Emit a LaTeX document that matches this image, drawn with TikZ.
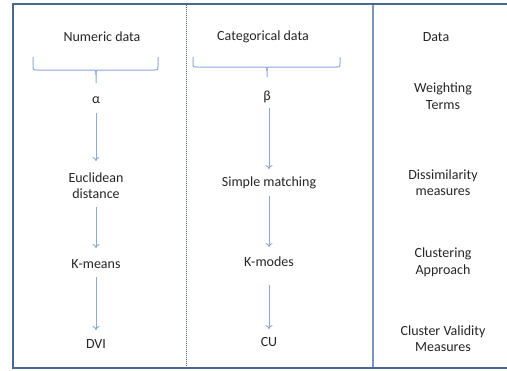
\documentclass[tikz,border=0pt]{standalone}
\usepackage{fontspec}
\setmainfont{Carlito}
\usetikzlibrary{arrows.meta}
\definecolor{frame}{HTML}{4A6793}
\definecolor{divider}{HTML}{7D96C0}
\definecolor{arrowc}{HTML}{8AA8D8}
\definecolor{txt}{HTML}{262626}
\begin{document}
\begin{tikzpicture}[x=1bp,y=-1bp,
  lbl/.style={inner sep=0pt,text=txt,font=\fontsize{14bp}{16.5bp}\selectfont,align=center},
  arr/.style={draw=arrowc,line width=0.9bp,-{To[length=4bp,width=7bp]}},
  bracec/.style={draw=arrowc,line width=1bp}]
\useasboundingbox (0,0) rectangle (507,370);
% frame
\draw[frame,line width=2bp] (507,4) -- (13,4) -- (13,368) -- (507,368);
\draw[frame,line width=1bp,dash pattern=on 1bp off 1bp] (186,5) -- (186,367);
\draw[divider,line width=2.4bp] (373,5) -- (373,367);
% left column
\node[lbl] (numeric) at (102,37) {Numeric data};
\node[lbl] (alpha) at (96,100) {α};
\node[lbl] (eucl) at (96,185.5) {Euclidean\\distance};
\node[lbl] (kmeans) at (96,264) {K-means};
\node[lbl] (dvi) at (96,344) {DVI};
% middle column
\node[lbl] (categ) at (263,37) {Categorical data};
\node[lbl] (beta) at (267,97) {β};
\node[lbl] (simple) at (269,183) {Simple matching};
\node[lbl] (kmodes) at (269,262) {K-modes};
\node[lbl] (cu) at (269,342) {CU};
% right column
\node[lbl] (data) at (436,37) {Data};
\node[lbl] (weight) at (443,96) {Weighting\\Terms};
\node[lbl] (dissim) at (443,182.5) {Dissimilarity\\measures};
\node[lbl] (clust) at (443,262.5) {Clustering\\Approach};
\node[lbl] (valid) at (443,338.5) {Cluster Validity\\Measures};
% braces
\coordinate (bl1) at (33,57);
\coordinate (br1) at (158,57);
\coordinate (bt1) at (96,83);
\draw[bracec] (bl1) -- (33,66) .. controls (33,70) .. (37,70) -- (92,70)
  .. controls (96,70) .. (96,75) -- (bt1);
\draw[bracec] (96,75) .. controls (96,70) .. (100,70) -- (154,70)
  .. controls (158,70) .. (158,66) -- (br1);
\coordinate (bl2) at (193,57);
\coordinate (br2) at (340,57);
\coordinate (bt2) at (267,77);
\draw[bracec] (bl2) -- (193,63) .. controls (193,67) .. (197,67) -- (263,67)
  .. controls (267,67) .. (267,71) -- (bt2);
\draw[bracec] (267,71) .. controls (267,67) .. (271,67) -- (336,67)
  .. controls (340,67) .. (340,63) -- (br2);
% arrows left
\draw[arr,shorten <=13bp,shorten >=24.5bp] (alpha.center) -- (eucl.center);
\draw[arr,shorten <=21.5bp,shorten >=16bp] (eucl.center) -- (kmeans.center);
\draw[arr,shorten <=13bp,shorten >=14bp] (kmeans.center) -- (dvi.center);
% arrows middle
\draw[arr,shorten <=11bp,shorten >=14bp] (simple.center |- beta.center) -- (simple.center);
\draw[arr,shorten <=13bp,shorten >=15bp] (simple.center) -- (kmodes.center);
\draw[arr,shorten <=23bp,shorten >=13bp] (kmodes.center) -- (cu.center);
\end{tikzpicture}
\end{document}
